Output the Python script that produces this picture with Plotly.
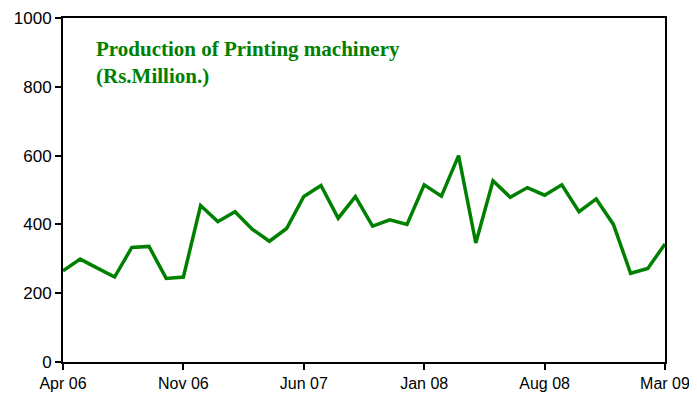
import plotly.graph_objects as go

months = [
    "Apr 06", "May 06", "Jun 06", "Jul 06", "Aug 06", "Sep 06", "Oct 06", "Nov 06",
    "Dec 06", "Jan 07", "Feb 07", "Mar 07", "Apr 07", "May 07", "Jun 07", "Jul 07",
    "Aug 07", "Sep 07", "Oct 07", "Nov 07", "Dec 07", "Jan 08", "Feb 08", "Mar 08",
    "Apr 08", "May 08", "Jun 08", "Jul 08", "Aug 08", "Sep 08", "Oct 08", "Nov 08",
    "Dec 08", "Jan 09", "Feb 09", "Mar 09",
]
production = [
    265, 299, 273, 247, 333, 336, 243, 247,
    455, 408, 437, 386, 351, 388, 481, 513,
    418, 481, 395, 413, 400, 515, 482, 600,
    346, 527, 479, 507, 485, 515, 437, 474,
    400, 258, 272, 343,
]
tick_labels = ["Apr 06", "Nov 06", "Jun 07", "Jan 08", "Aug 08", "Mar 09"]

fig = go.Figure()
fig.add_trace(go.Scatter(
    x=months, y=production, mode="lines",
    line=dict(color="#008000", width=3.5),
))

# title sits inside the plot box, top-left
fig.add_annotation(
    text="<b>Production of Printing machinery<br>(Rs.Million.)</b>",
    xref="paper", yref="paper", x=0.052, y=0.95,
    xanchor="left", yanchor="top", align="left", showarrow=False,
    font=dict(family="Liberation Serif, Times New Roman, serif", size=21, color="#008000"),
)

fig.update_xaxes(
    type="category", range=[0, len(months) - 1],
    tickvals=tick_labels, ticktext=tick_labels,
    showline=True, linecolor="black", linewidth=2, mirror=True,
    ticks="outside", ticklen=6, tickwidth=1.5, tickcolor="black",
    showgrid=False, automargin=False, tickfont=dict(size=16, color="black"),
)
fig.update_yaxes(
    range=[0, 1000], dtick=200,
    showline=True, linecolor="black", linewidth=2, mirror=True,
    ticks="outside", ticklen=6, tickwidth=1.5, tickcolor="black",
    showgrid=False, zeroline=False, automargin=False,
    tickfont=dict(size=17, color="black"),
)
# page body adds an 8px offset, so margins are trimmed to compensate
fig.update_layout(
    width=697, height=400,
    margin=dict(l=55, r=40, t=10, b=46),
    plot_bgcolor="white", paper_bgcolor="white",
    font=dict(family="Liberation Sans, Arial, sans-serif"),
    showlegend=False,
)
fig.write_html("out.html")
